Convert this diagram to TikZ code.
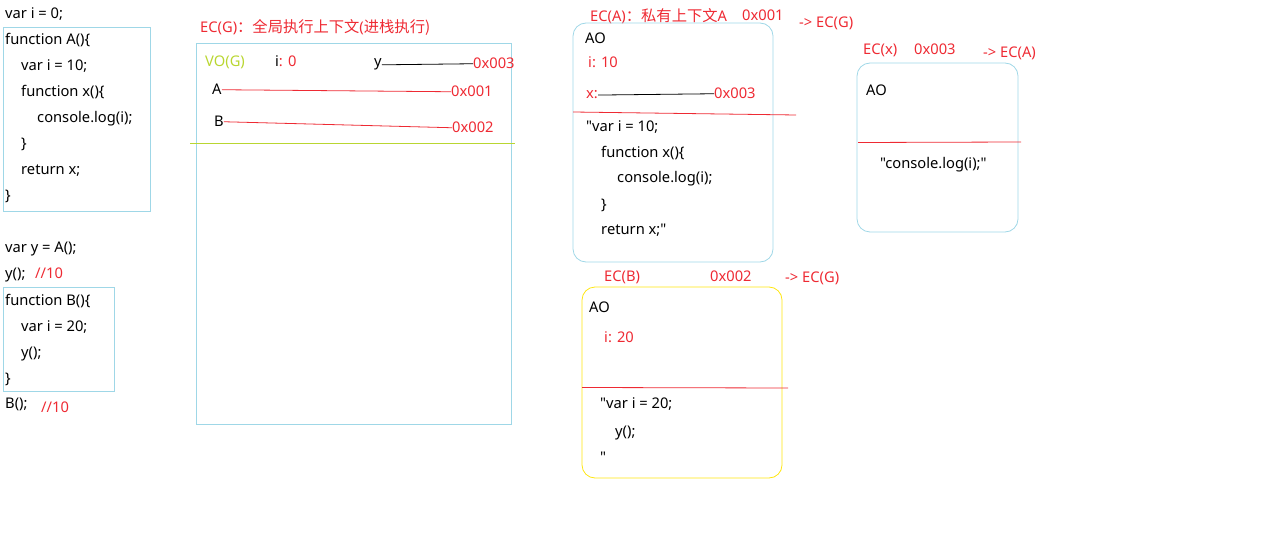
\documentclass[tikz,border=0pt]{standalone}
\usepackage{fontspec}
\setmainfont{Noto Sans}[Ligatures=TeXOff]
\newfontfamily\cjk{Noto Sans CJK SC}[Ligatures=TeXOff, Scale=1.04]
\definecolor{lineblue}{HTML}{9FD7E7}
\definecolor{notered}{HTML}{EE2A33}
\definecolor{vogreen}{HTML}{B9D631}
\definecolor{boxyellow}{HTML}{FFE60F}

\begin{document}
\begin{tikzpicture}[x=1pt, y=-1pt,
  every node/.style={anchor=base west, inner sep=0pt, font=\fontsize{14.7}{18}\selectfont},
  note/.style={text=notered},
  frame/.style={draw=lineblue, line width=0.8pt},
  ctx/.style={draw=lineblue, line width=0.8pt, rounded corners=13pt},
  sep/.style={draw=notered, line width=0.8pt}]
  \useasboundingbox (0,0) rectangle (1276,537);

  % left column: the source code
  \node (c0) at (5,19) {var i = 0;};
  \draw[frame] (3,27) rectangle (150,211);
  \node (a1) at (5,45) {function A()\{};
  \node (a2) at (21,71) {var i = 10;};
  \node (a3) at (21,97) {function x()\{};
  \node (a4) at (37,123) {console.log(i);};
  \node (a5) at (21,149) {\}};
  \node (a6) at (21,175) {return x;};
  \node (a7) at (5,201) {\}};
  \node (c1) at (5,253) {var y = A();};
  \node (c2) at (5,278) {y();};
  \node[note] (r1) at (35,278) {//10};
  \draw[frame] (3,287) rectangle (114,391);
  \node (b1) at (5,305) {function B()\{};
  \node (b2) at (21,331) {var i = 20;};
  \node (b3) at (21,357) {y();};
  \node (b4) at (5,383) {\}};
  \node (c3) at (5,408) {B();};
  \node[note] (r2) at (41,412) {//10};

  % global context EC(G)
  \node[note] (tG) at (200,33) {EC(G){\cjk ：全局执行上下文}(\cjk 进栈执行)};
  \draw[frame] (196,43) rectangle (511,424);
  \draw[vogreen, line width=0.8pt] (190,143) -- (515,143);
  \node[text=vogreen] (vo) at (205,67) {VO(G)};
  \node (gi) at (275,67) {i\textcolor{notered}{: 0}};
  \node (gy) at (374,67) {y};
  \node[note] (gy3) at (473,69) {0x003};
  \node (gA) at (212,95) {A};
  \node[note] (gA1) at (451,97) {0x001};
  \node (gB) at (214,127) {B};
  \node[note] (gB2) at (452,133) {0x002};
  \draw[black, line width=0.8pt] (gy.east) -- (gy3.west);
  \draw[sep] (gA.east) -- (gA1.west);
  \draw[sep] (gB.east) -- (gB2.west);

  % private context EC(A)
  \node[note] (tA) at (590,22) {EC(A){\cjk ：私有上下文}A};
  \node[note] (tA1) at (742,21) {0x001};
  \node[note] (tA2) at (799,28) {-> EC(G)};
  \draw[ctx] (573,23) rectangle (773,262);
  \node (aAO) at (585,44) {AO};
  \node[note] (ai) at (588,68) {i: 10};
  \node[note] (ax) at (586,99) {x:};
  \node[note] (ax3) at (714,99) {0x003};
  \draw[black, line width=0.8pt] (ax.east) -- (ax3.west);
  \draw[sep] (573,112) -- (796,115);
  \node (ac1) at (586,132) {"var i = 10;};
  \node (ac2) at (601,158) {function x()\{};
  \node (ac3) at (617,183) {console.log(i);};
  \node (ac4) at (601,210) {\}};
  \node (ac5) at (601,235) {return x;"};

  % context EC(x)
  \node[note] (tx) at (863,55) {EC(x)};
  \node[note] (tx1) at (914,55) {0x003};
  \node[note] (tx2) at (983,58) {-> EC(A)};
  \draw[ctx] (857,63) rectangle (1018,232);
  \node (xAO) at (866,96) {AO};
  \draw[sep] (858,142.5) -- (1021,142);
  \node (xc1) at (880,169) {"console.log(i);"};

  % context EC(B)
  \node[note] (tB) at (604,281) {EC(B)};
  \node[note] (tB1) at (710,281) {0x002};
  \node[note] (tB2) at (785,283) {-> EC(G)};
  \draw[draw=boxyellow, line width=0.8pt, rounded corners=13pt] (582,287) rectangle (782,478);
  \node (bAO) at (589,312) {AO};
  \node[note] (bi) at (604,342) {i: 20};
  \draw[sep] (582,387.5) -- (788,388);
  \node (bc1) at (600,408) {"var i = 20;};
  \node (bc2) at (615,436) {y();};
  \node (bc3) at (600,462) {"};

\end{tikzpicture}
\end{document}
